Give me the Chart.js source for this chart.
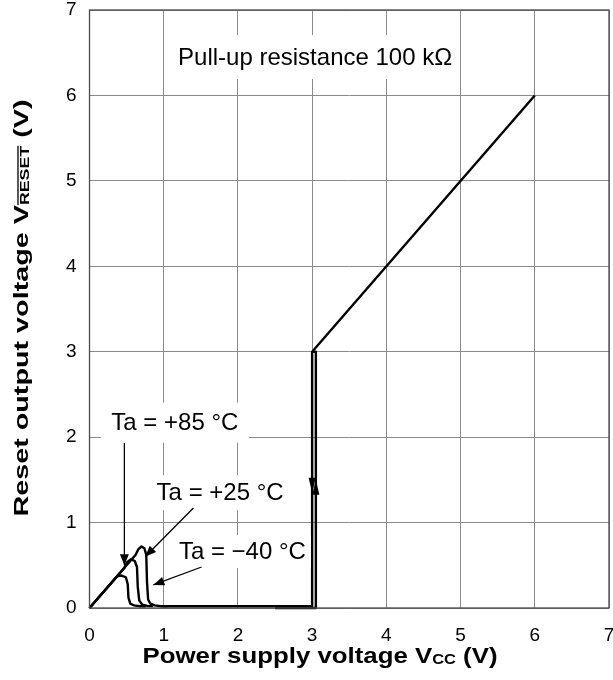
<!DOCTYPE html>
<html><head><meta charset="utf-8">
<script src="https://cdn.jsdelivr.net/npm/chart.js@4.4.1/dist/chart.umd.min.js"></script>
<style>html,body{margin:0;padding:0;background:#fff;}#wrap{width:613px;height:680px;position:relative;}</style>
</head><body><div id="wrap"><canvas id="c" width="613" height="680"></canvas></div>
<script>
// ---- data ----
const xTicks = [0,1,2,3,4,5,6,7];
const yTicks = [0,1,2,3,4,5,6,7];
// Ta = -40 C (low-voltage region)
const m40X = [0, 0.62, 0.66, 0.70, 0.74, 0.765, 0.775, 0.79, 0.82, 0.88, 0.96, 1.05];
const m40Y = [0, 0.62, 0.69, 0.72, 0.70, 0.62, 0.30, 0.10, 0.05, 0.03, 0.02, 0.02];
// Ta = +25 C
const p25X = [0, 0.47, 0.51, 0.56, 0.61, 0.64, 0.65, 0.67, 0.71, 0.78, 0.86];
const p25Y = [0, 0.47, 0.54, 0.57, 0.55, 0.48, 0.25, 0.09, 0.04, 0.025, 0.02];
// Ta = +85 C
const p85X = [0, 0.32, 0.37, 0.43, 0.49, 0.515, 0.525, 0.55, 0.60, 0.68, 0.76];
const p85Y = [0, 0.32, 0.37, 0.38, 0.36, 0.28, 0.12, 0.05, 0.03, 0.02, 0.02];
// falling Vcc branch (detect at ~3.0 V) and main line
const fallX = [1.0, 3.0, 3.0, 6.0];
const fallY = [0.02, 0.02, 3.0, 6.0];
// rising Vcc branch (release at ~3.05 V)
const riseX = [2.5, 3.05, 3.05, 3.0];
const riseY = [0.0, 0.0, 3.0, 3.0];

// ---- annotation texts (positions in data units) ----
const noteTexts = ['Pull-up resistance 100 kΩ', 'Ta = +85 °C', 'Ta = +25 °C', 'Ta = −40 °C'];
const noteX = [3.04, 1.15, 1.76, 2.06];
const noteY = [6.45, 2.17, 1.35, 0.66];
const noteBoxW = [288, 148, 140, 137];
const noteBoxH = [44, 40, 35, 33];
// leader arrows: from -> to (data units)
const leadFromX = [0.47, 1.40, 1.51];
const leadFromY = [1.93, 1.17, 0.48];
const leadToX = [0.47, 0.75, 0.86];
const leadToY = [0.50, 0.60, 0.27];
// direction arrows on the hysteresis lines
const dirX = [3.0, 3.05];
const dirTipY = [1.35, 1.50];
const dirSign = [1, -1]; // 1 = pointing down, -1 = pointing up

function pts(xs, ys){ return xs.map((x,i)=>({x:x, y:ys[i]})); }
function ds(xs, ys){
  return {data: pts(xs, ys), showLine:true, borderColor:'#000', borderWidth:2.4,
          pointRadius:0, tension:0, fill:false, clip:false, borderJoinStyle:'round'};
}

function arrowHead(ctx, tx, ty, fx, fy, len, half){
  const a = Math.atan2(ty-fy, tx-fx);
  ctx.beginPath();
  ctx.moveTo(tx, ty);
  ctx.lineTo(tx - len*Math.cos(a) + half*Math.sin(a), ty - len*Math.sin(a) - half*Math.cos(a));
  ctx.lineTo(tx - len*Math.cos(a) - half*Math.sin(a), ty - len*Math.sin(a) + half*Math.cos(a));
  ctx.closePath();
  ctx.fill();
}

function richText(ctx, parts, size, bold, targetW){
  const fam = '"Liberation Sans", Arial, sans-serif';
  const w = bold ? 'bold ' : '';
  let total = 0;
  const widths = parts.map(p=>{
    ctx.font = w + (p.small ? Math.round(size*0.62) : size) + 'px ' + fam;
    const m = ctx.measureText(p.t).width; total += m; return m;
  });
  const sx = targetW / total;
  ctx.save();
  ctx.scale(sx, 1);
  let x = -total/2;
  parts.forEach((p,i)=>{
    const s = p.small ? Math.round(size*0.62) : size;
    ctx.font = w + s + 'px ' + fam;
    ctx.textBaseline = 'alphabetic';
    ctx.textAlign = 'left';
    ctx.fillText(p.t, x, p.small ? 1 : 0);
    if (p.overline){
      ctx.fillRect(x, -s*0.82, widths[i], 1.3);
    }
    x += widths[i];
  });
  ctx.restore();
}

const decor = {
  id:'decor',
  afterDatasetsDraw(chart){
    const ctx = chart.ctx, xs = chart.scales.x, ys = chart.scales.y, ca = chart.chartArea;
    ctx.save();
    // frame
    ctx.strokeStyle = '#4a4a4a'; ctx.lineWidth = 1.3;
    ctx.strokeRect(ca.left, ca.top, ca.right-ca.left, ca.bottom-ca.top);
    // notes with white boxes
    noteTexts.forEach((t,i)=>{
      const cx = xs.getPixelForValue(noteX[i]), cy = ys.getPixelForValue(noteY[i]);
      ctx.fillStyle = '#fff';
      ctx.fillRect(cx - noteBoxW[i]/2, cy - noteBoxH[i]/2, noteBoxW[i], noteBoxH[i]);
      ctx.fillStyle = '#000';
      ctx.font = '24px "Liberation Sans", Arial, sans-serif';
      ctx.textAlign = 'center'; ctx.textBaseline = 'middle';
      ctx.fillText(t, cx, cy+1);
    });
    // leader arrows
    ctx.strokeStyle = '#000'; ctx.fillStyle = '#000'; ctx.lineWidth = 1.3;
    leadFromX.forEach((fx,i)=>{
      const x1 = xs.getPixelForValue(fx), y1 = ys.getPixelForValue(leadFromY[i]);
      const x2 = xs.getPixelForValue(leadToX[i]), y2 = ys.getPixelForValue(leadToY[i]);
      ctx.beginPath(); ctx.moveTo(x1,y1); ctx.lineTo(x2,y2); ctx.stroke();
      arrowHead(ctx, x2, y2, x1, y1, 11, 4.5);
    });
    // direction arrows
    dirX.forEach((dx,i)=>{
      const x = xs.getPixelForValue(dx), ty = ys.getPixelForValue(dirTipY[i]);
      arrowHead(ctx, x, ty, x, ty - dirSign[i]*15, 15, 3.5);
    });
    // axis titles
    ctx.fillStyle = '#000';
    ctx.save();
    ctx.translate(320, 663);
    richText(ctx, [{t:'Power supply voltage V'},{t:'CC',small:true},{t:' (V)'}], 22, true, 355);
    ctx.restore();
    ctx.save();
    ctx.translate(28, 308);
    ctx.rotate(-Math.PI/2);
    richText(ctx, [{t:'Reset output voltage V'},{t:'RESET',small:true,overline:true},{t:' (V)'}], 21, true, 417);
    ctx.restore();
    ctx.restore();
  }
};

const tickFont = {family:'"Liberation Sans", Arial, sans-serif', size:19};
new Chart(document.getElementById('c'), {
  type:'scatter',
  data:{datasets:[ds(m40X,m40Y), ds(p25X,p25Y), ds(p85X,p85Y), ds(fallX,fallY), ds(riseX,riseY)]},
  options:{
    responsive:false, animation:false, devicePixelRatio:1,
    layout:{padding:{top:10,right:4,left:0,bottom:0}},
    plugins:{legend:{display:false}, tooltip:{enabled:false}},
    scales:{
      x:{type:'linear', min:0, max:7,
         afterBuildTicks(s){ s.ticks = xTicks.map(v=>({value:v})); },
         afterFit(s){ s.height = 72; s.paddingLeft = 0; s.paddingRight = 0; s.paddingTop = 0; s.paddingBottom = 0; },
         grid:{color:'#8a8a8a', lineWidth:1, drawTicks:false},
         border:{display:false},
         ticks:{color:'#000', font:tickFont, padding:16, maxRotation:0}},
      y:{type:'linear', min:0, max:7,
         afterBuildTicks(s){ s.ticks = yTicks.map(v=>({value:v})); },
         afterFit(s){ s.width = 89.5; s.paddingLeft = 0; s.paddingRight = 0; s.paddingTop = 0; s.paddingBottom = 0; },
         grid:{color:'#8a8a8a', lineWidth:1, drawTicks:false},
         border:{display:false},
         ticks:{color:'#000', font:tickFont, padding:13}}
    }
  },
  plugins:[decor]
});
</script></body></html>
